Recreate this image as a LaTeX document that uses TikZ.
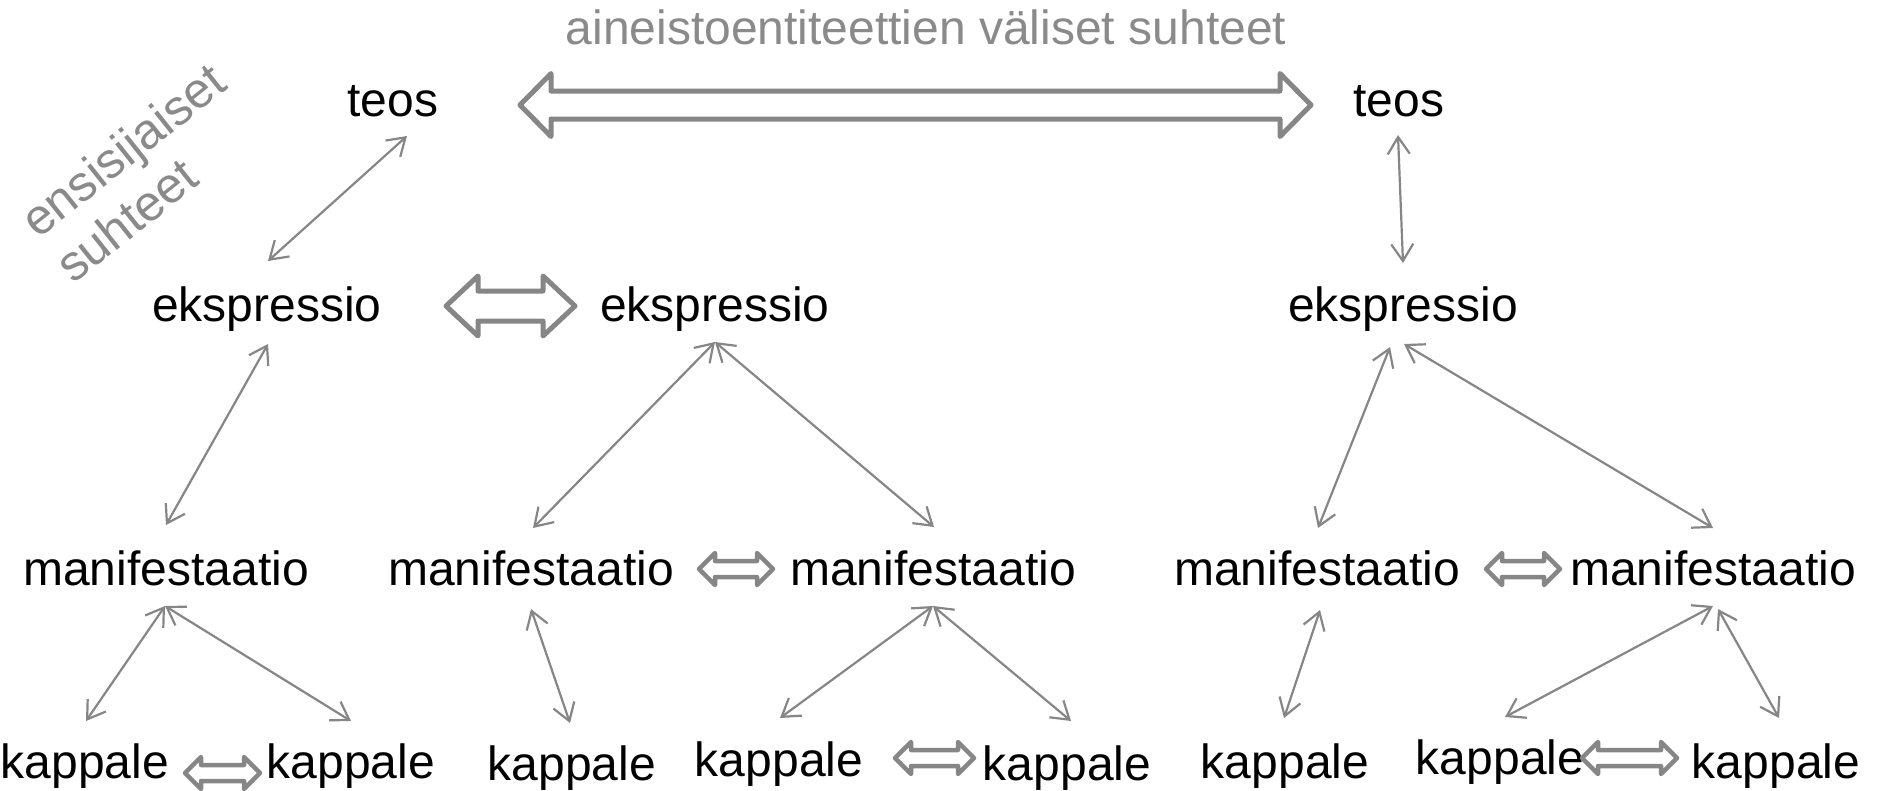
\documentclass[tikz,border=0pt]{standalone}
\usepackage{fontspec}
\setmainfont{Liberation Sans}
\usetikzlibrary{arrows.meta,calc}
\definecolor{arrgray}{RGB}{134,134,134}
\definecolor{txtgray}{RGB}{138,138,138}
% fat outlined double arrow between two coordinates: #2 start, #3 end, #4 head length, #5 head half-height, #6 shaft half-height
\newcommand\fatarr[6][fatline]{%
  \draw[#1] let \p1=(#2), \p2=(#3) in
    (\x1,\y1) -- (\x1+#4,\y1+#5) -- (\x1+#4,\y1+#6) -- (\x2-#4,\y1+#6) -- (\x2-#4,\y1+#5)
    -- (\x2,\y1) -- (\x2-#4,\y1-#5) -- (\x2-#4,\y1-#6) -- (\x1+#4,\y1-#6) -- (\x1+#4,\y1-#5) -- cycle;}
\begin{document}
\begin{tikzpicture}[x=1pt,y=-1pt,
  lbl/.style={inner sep=0pt,anchor=base,font=\fontsize{48}{57.6}\selectfont},
  glbl/.style={lbl,text=txtgray},
  rotlbl/.style={inner sep=0pt,anchor=base west,rotate=38.5,text=txtgray,font=\fontsize{50}{60}\selectfont},
  rel/.style={draw=arrgray,line width=2.2pt,{Straight Barb[length=17pt,width=22pt]}-{Straight Barb[length=17pt,width=22pt]}},
  fatline/.style={draw=arrgray,fill=white,line width=5pt,line join=round},
  fatsmall/.style={draw=arrgray,fill=white,line width=4.5pt,line join=round}]
\useasboundingbox (0,0) rectangle (1877,790);

% title and side label
\node[glbl] (title) at (926,44) {aineistoentiteettien väliset suhteet};
\node[rotlbl] (ens) at (38,240) {ensisijaiset};
\node[rotlbl] (suh) at (73,285) {suhteet};

% entities
\node[lbl] (tL) at (393,116) {teos};
\node[lbl] (tR) at (1399,116) {teos};
\node[lbl] (eL) at (267,321) {ekspressio};
\node[lbl] (eM) at (715,321) {ekspressio};
\node[lbl] (eR) at (1403,321) {ekspressio};
\node[lbl] (mL) at (166,585) {manifestaatio};
\node[lbl] (mM1) at (531,585) {manifestaatio};
\node[lbl] (mM2) at (933,585) {manifestaatio};
\node[lbl] (mR1) at (1317,585) {manifestaatio};
\node[lbl] (mR2) at (1713,585) {manifestaatio};
\node[lbl] (k1) at (85,778) {kappale};
\node[lbl] (k2) at (351,778) {kappale};
\node[lbl] (k3) at (572,780) {kappale};
\node[lbl] (k4) at (779,776) {kappale};
\node[lbl] (k5) at (1067,780) {kappale};
\node[lbl] (k6) at (1285,778) {kappale};
\node[lbl] (k7) at (1500,774) {kappale};
\node[lbl] (k8) at (1776,778) {kappale};

% primary relationships
\draw[rel] ([shift={(14,20)}]tL.base) -- ([shift={(1,-60)}]eL.base);
\draw[rel] ([shift={(-1,19)}]tR.base) -- ([shift={(0,-58)}]eR.base);
\draw[rel] ([shift={(1,23)}]eL.base) -- ([shift={(0,-60)}]mL.base);
\draw[rel] ([shift={(0,21)}]eM.base) -- ([shift={(2,-57)}]mM1.base);
\draw[rel] ([shift={(0,21)}]eM.base) -- ([shift={(1,-58)}]mM2.base);
\draw[rel] ([shift={(-13,26)}]eR.base) -- ([shift={(1,-57)}]mR1.base);
\draw[rel] ([shift={(1,23)}]eR.base) -- ([shift={(0,-57)}]mR2.base);
\draw[rel] ([shift={(-1,21)}]mL.base) -- ([shift={(1,-57)}]k1.base);
\draw[rel] ([shift={(-1,21)}]mL.base) -- ([shift={(0,-57)}]k2.base);
\draw[rel] ([shift={(0,24)}]mM1.base) -- ([shift={(-2,-57)}]k3.base);
\draw[rel] ([shift={(0,21)}]mM2.base) -- ([shift={(1,-58)}]k4.base);
\draw[rel] ([shift={(0,21)}]mM2.base) -- ([shift={(4,-59)}]k5.base);
\draw[rel] ([shift={(3,25)}]mR1.base) -- ([shift={(-1,-60)}]k6.base);
\draw[rel] ([shift={(0,21)}]mR2.base) -- ([shift={(5,-57)}]k7.base);
\draw[rel] ([shift={(5,24)}]mR2.base) -- ([shift={(3,-60)}]k8.base);

% entity-to-entity relationships (fat double arrows)
\coordinate (bigA) at ([shift={(127,-11)}]tL.base);
\coordinate (bigB) at ([shift={(-88,-11)}]tR.base);
\fatarr{bigA}{bigB}{31pt}{31.5pt}{14pt}
\coordinate (eA) at ([shift={(179,-15)}]eL.base);
\coordinate (eB) at ([shift={(-140,-15)}]eM.base);
\fatarr{eA}{eB}{32pt}{30pt}{15pt}
\coordinate (mA) at ([shift={(168,-16)}]mM1.base);
\coordinate (mB) at ([shift={(-160,-16)}]mM2.base);
\fatarr[fatsmall]{mA}{mB}{16pt}{16pt}{8pt}
\coordinate (mC) at ([shift={(169,-16)}]mR1.base);
\coordinate (mD) at ([shift={(-153,-16)}]mR2.base);
\fatarr[fatsmall]{mC}{mD}{16pt}{16pt}{8pt}
\coordinate (kA) at ([shift={(100,-5)}]k1.base);
\coordinate (kB) at ([shift={(-91,-5)}]k2.base);
\fatarr[fatsmall]{kA}{kB}{16pt}{16pt}{8pt}
\coordinate (kC) at ([shift={(116,-18)}]k4.base);
\coordinate (kD) at ([shift={(-93,-18)}]k5.base);
\fatarr[fatsmall]{kC}{kD}{16pt}{16pt}{8pt}
\coordinate (kE) at ([shift={(82,-16)}]k7.base);
\coordinate (kF) at ([shift={(-99,-16)}]k8.base);
\fatarr[fatsmall]{kE}{kF}{16pt}{16pt}{8pt}
\end{tikzpicture}
\end{document}
